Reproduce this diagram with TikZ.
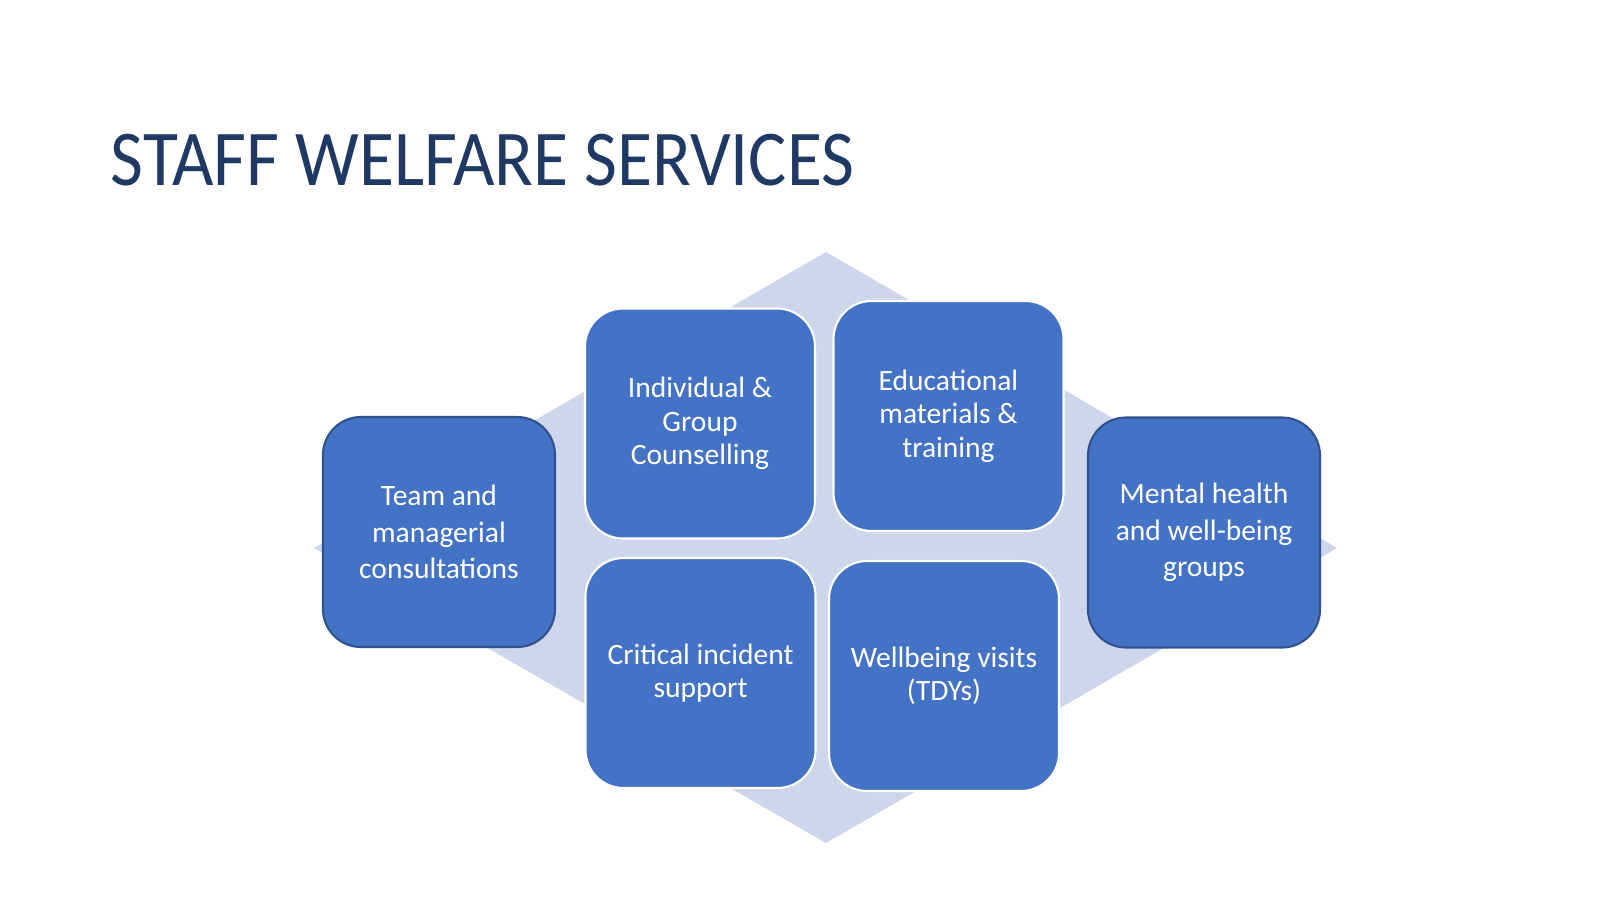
\documentclass[tikz,border=0pt]{standalone}
\usepackage{fontspec}
\setmainfont{Carlito}
\newfontfamily\titlefont[FakeStretch=0.905]{Carlito}
\definecolor{titleblue}{HTML}{1F3864}
\definecolor{boxblue}{HTML}{4472C4}
\definecolor{edgeblue}{HTML}{2F528F}
\definecolor{diamondgray}{HTML}{CFD5EA}
\tikzset{
  svcbox/.style={draw=white,line width=.6pt,fill=boxblue,rounded corners=.38cm,
    minimum width=2.30cm,minimum height=2.30cm,align=center,text=white,
    font=\fontsize{8.4pt}{9.5pt}\selectfont,inner sep=0pt},
  sidebox/.style={svcbox,draw=edgeblue,minimum width=2.32cm,
    font=\fontsize{8.4pt}{10.4pt}\selectfont}
}
\begin{document}
\begin{tikzpicture}[scale=1]
\useasboundingbox (0,0) rectangle (16,9);
\fill[white] (0,0) rectangle (16,9);
\node[anchor=base west,text=titleblue,font=\titlefont\fontsize{22.5pt}{27pt}\selectfont,inner sep=0pt] (title) at (1.10,7.15) {STAFF WELFARE SERVICES};
\fill[diamondgray] (8.26,6.48) -- (13.37,3.52) -- (8.26,0.57) -- (3.14,3.52) -- cycle;
\node[sidebox] (team) at (4.39,3.68) {Team and\\managerial\\consultations};
\node[svcbox] (indiv) at (7.00,4.765) {Individual \&\\Group\\Counselling};
\node[svcbox] (edu) at (9.485,4.84) {Educational\\materials \&\\training};
\node[sidebox] (mental) at (12.04,3.675) {Mental health\\and well-being\\groups};
\node[svcbox] (crit) at (7.005,2.27) {Critical incident\\support};
\node[svcbox] (visits) at (9.44,2.24) {Wellbeing visits\\(TDYs)};
\end{tikzpicture}
\end{document}
